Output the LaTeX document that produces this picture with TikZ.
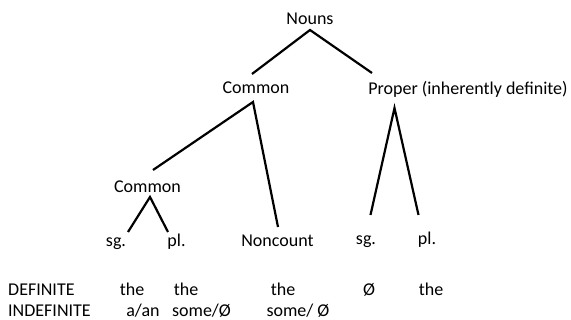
\documentclass[tikz,border=0pt]{standalone}
\usepackage{fontspec}
\setmainfont{Carlito}
\begin{document}
\begin{tikzpicture}[x=1pt,y=-1pt,
  lbl/.style={inner sep=0pt,anchor=base,font=\fontsize{18}{21}\selectfont},
  rowlbl/.style={lbl,anchor=base west},
  branch/.style={line width=2.2pt,line cap=butt}]
\useasboundingbox (0,0) rectangle (571,320);

% tree labels
\node[lbl] (nouns)    at (310,25)    {Nouns};
\node[lbl] (common)   at (256,94)    {Common};
\node[lbl] (proper)   at (468,95)    {Proper (inherently definite)};
\node[lbl] (common2)  at (147.5,193) {Common};
\node[lbl] (sgA)      at (116,247)   {sg.};
\node[lbl] (plA)      at (176.5,247) {pl.};
\node[lbl] (noncount) at (277.5,247) {Noncount};
\node[lbl] (sgB)      at (366,245)   {sg.};
\node[lbl] (plB)      at (427,245)   {pl.};

% branch end points
\coordinate (n0) at (310,30);
\coordinate (n1) at (252,74);
\coordinate (n2) at (372,73);
\coordinate (c0) at (253,102);
\coordinate (c1) at (153,170);
\coordinate (c2) at (278,227);
\coordinate (p0) at (394.5,108);
\coordinate (p1) at (370.5,215);
\coordinate (p2) at (418.5,215);
\coordinate (d0) at (150,197);
\coordinate (d1) at (128,232);
\coordinate (d2) at (168,232);

\draw[branch] (n1) -- (n0) -- (n2);
\draw[branch] (c1) -- (c0) -- (c2);
\draw[branch] (p1) -- (p0) -- (p2);
\draw[branch] (d1) -- (d0) -- (d2);

% article rows
\node[rowlbl] (def)   at (8,296) {DEFINITE};
\node[lbl] (defA) at (132,296) {the};
\node[lbl] (defB) at (186,296) {the};
\node[lbl] (defC) at (283,296) {the};
\node[lbl] (defD) at (369,296) {Ø};
\node[lbl] (defE) at (431,296) {the};

\node[rowlbl] (indef) at (8,317) {INDEFINITE};
\node[lbl] (indA) at (143,317)   {a/an};
\node[lbl] (indB) at (201.5,317) {some/Ø};
\node[lbl] (indC) at (298,317)   {some/ Ø};
\end{tikzpicture}
\end{document}
